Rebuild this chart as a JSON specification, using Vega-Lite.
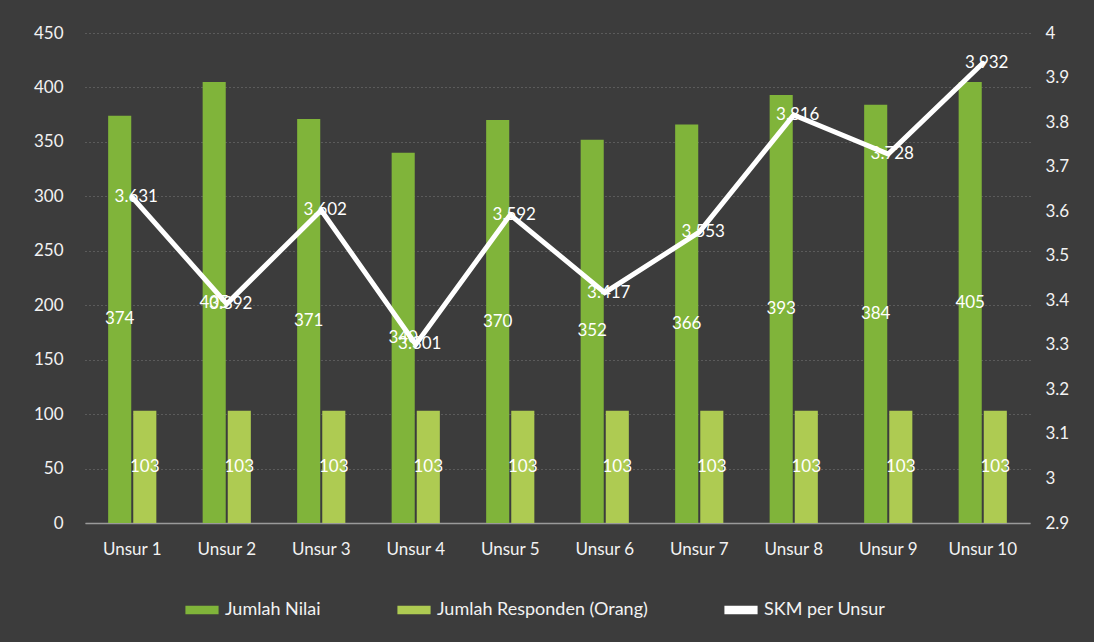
{
  "$schema": "https://vega.github.io/schema/vega-lite/v6.json",
  "width": 945,
  "height": 490,
  "autosize": {"type": "none"},
  "padding": {"left": 85, "top": 33, "right": 64, "bottom": 119},
  "background": "#3c3c3c",
  "config": {
    "view": {"stroke": null},
    "font": "Lato",
    "axis": {"labelColor": "#f2f2f2", "labelFontSize": 17, "labelFont": "Lato", "ticks": false, "domain": false, "titleColor": "#f2f2f2"}
  },
  "data": {
    "values": [
      {"unsur": "Unsur 1", "nilai": 374, "responden": 103, "skm": 3.631},
      {"unsur": "Unsur 2", "nilai": 405, "responden": 103, "skm": 3.392},
      {"unsur": "Unsur 3", "nilai": 371, "responden": 103, "skm": 3.602},
      {"unsur": "Unsur 4", "nilai": 340, "responden": 103, "skm": 3.301},
      {"unsur": "Unsur 5", "nilai": 370, "responden": 103, "skm": 3.592},
      {"unsur": "Unsur 6", "nilai": 352, "responden": 103, "skm": 3.417},
      {"unsur": "Unsur 7", "nilai": 366, "responden": 103, "skm": 3.553},
      {"unsur": "Unsur 8", "nilai": 393, "responden": 103, "skm": 3.816},
      {"unsur": "Unsur 9", "nilai": 384, "responden": 103, "skm": 3.728},
      {"unsur": "Unsur 10", "nilai": 405, "responden": 103, "skm": 3.932}
    ]
  },
  "encoding": {
    "x": {
      "field": "unsur", "type": "nominal", "sort": null,
      "scale": {"paddingInner": 0.49, "paddingOuter": 0.245},
      "axis": {"title": null, "labelAngle": 0, "domain": true, "domainColor": "#9a9a9a", "domainWidth": 1.5, "labelPadding": 18}
    }
  },
  "layer": [
    {
      "transform": [{"fold": ["nilai", "responden"], "as": ["key", "value"]}],
      "mark": {"type": "bar"},
      "encoding": {
        "xOffset": {"field": "key", "type": "nominal", "scale": {"paddingInner": 0.08}},
        "y": {
          "field": "value", "type": "quantitative",
          "scale": {"domain": [0, 450], "nice": false},
          "axis": {"title": null, "orient": "left", "values": [0, 50, 100, 150, 200, 250, 300, 350, 400, 450], "grid": true, "gridColor": "#7a7a7a", "gridDash": [1, 3], "gridWidth": 1, "labelPadding": 22}
        },
        "color": {
          "field": "key", "type": "nominal",
          "scale": {"domain": ["nilai", "responden", "skm"], "range": ["#80b43a", "#aecb52", "#ffffff"]},
          "legend": {
            "title": null, "orient": "none", "legendX": 100, "legendY": 560, "direction": "horizontal", "columns": 3, "columnPadding": 76,
            "labelColor": "#f2f2f2", "labelFontSize": 18, "labelFont": "Lato", "labelLimit": 0, "labelOffset": 6,
            "symbolType": "M-1,-0.25L1,-0.25L1,0.25L-1,0.25Z", "symbolSize": 1100, "symbolStrokeWidth": 0,
            "labelExpr": "datum.label == 'nilai' ? 'Jumlah Nilai' : datum.label == 'responden' ? 'Jumlah Responden (Orang)' : 'SKM per Unsur'"
          }
        }
      }
    },
    {
      "transform": [{"fold": ["nilai", "responden"], "as": ["key", "value"]}],
      "mark": {"type": "text", "color": "#ffffff", "fontSize": 17, "font": "Lato", "baseline": "middle", "align": "center"},
      "encoding": {
        "xOffset": {"field": "key", "type": "nominal", "scale": {"paddingInner": 0.08}},
        "y": {"field": "value", "type": "quantitative", "scale": {"domain": [0, 900], "nice": false}, "axis": null},
        "text": {"field": "value", "type": "quantitative"}
      }
    },
    {
      "mark": {"type": "line", "strokeWidth": 5, "strokeCap": "round", "strokeJoin": "miter"},
      "encoding": {
        "y": {
          "field": "skm", "type": "quantitative",
          "scale": {"domain": [2.9, 4], "nice": false, "zero": false},
          "axis": {"title": null, "orient": "right", "values": [2.9, 3, 3.1, 3.2, 3.3, 3.4, 3.5, 3.6, 3.7, 3.8, 3.9, 4], "format": "~g", "grid": false, "labelPadding": 15}
        },
        "color": {"datum": "skm"}
      }
    },
    {
      "mark": {"type": "text", "color": "#ffffff", "fontSize": 17, "font": "Lato", "baseline": "middle", "align": "center", "dx": 4},
      "encoding": {
        "y": {"field": "skm", "type": "quantitative", "scale": {"domain": [2.9, 4], "nice": false, "zero": false}, "axis": null},
        "text": {"field": "skm", "type": "quantitative", "format": ".3f"}
      }
    }
  ],
  "resolve": {"scale": {"y": "independent"}}
}
